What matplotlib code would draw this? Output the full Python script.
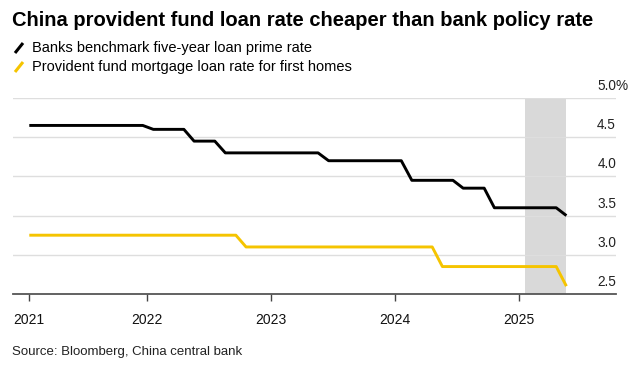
import matplotlib
matplotlib.use("Agg")
import matplotlib.pyplot as plt
import matplotlib.transforms as mtransforms
from matplotlib.lines import Line2D
import pandas as pd

plt.rcParams['font.family'] = ['Liberation Sans', 'DejaVu Sans']

# monthly fixings, 20th of each month
dates = pd.date_range("2021-01-01", "2025-05-01", freq="MS") + pd.Timedelta(days=19)

lpr_5y = [
    4.65, 4.65, 4.65, 4.65, 4.65, 4.65, 4.65, 4.65, 4.65, 4.65, 4.65, 4.65,  # 2021
    4.60, 4.60, 4.60, 4.60, 4.45, 4.45, 4.45, 4.30, 4.30, 4.30, 4.30, 4.30,  # 2022
    4.30, 4.30, 4.30, 4.30, 4.30, 4.20, 4.20, 4.20, 4.20, 4.20, 4.20, 4.20,  # 2023
    4.20, 3.95, 3.95, 3.95, 3.95, 3.95, 3.85, 3.85, 3.85, 3.60, 3.60, 3.60,  # 2024
    3.60, 3.60, 3.60, 3.60, 3.50,                                            # 2025
]
provident = [
    3.25, 3.25, 3.25, 3.25, 3.25, 3.25, 3.25, 3.25, 3.25, 3.25, 3.25, 3.25,  # 2021
    3.25, 3.25, 3.25, 3.25, 3.25, 3.25, 3.25, 3.25, 3.25, 3.10, 3.10, 3.10,  # 2022
    3.10, 3.10, 3.10, 3.10, 3.10, 3.10, 3.10, 3.10, 3.10, 3.10, 3.10, 3.10,  # 2023
    3.10, 3.10, 3.10, 3.10, 2.85, 2.85, 2.85, 2.85, 2.85, 2.85, 2.85, 2.85,  # 2024
    2.85, 2.85, 2.85, 2.85, 2.60,                                            # 2025
]

shade_start = pd.Timestamp("2025-01-18")
shade_end = dates[-1]

year_ticks = [dates[0]] + [pd.Timestamp(f"{y}-01-01") for y in (2022, 2023, 2024, 2025)]
year_labels = ["2021", "2022", "2023", "2024", "2025"]
y_ticks = [2.5, 3.0, 3.5, 4.0, 4.5, 5.0]

BLACK = "#000000"
YELLOW = "#f5c400"

fig = plt.figure(figsize=(6.41, 3.71), dpi=100)
ax = fig.add_axes([13 / 641, 1 - 294 / 371, (616 - 13) / 641, (294 - 98) / 371])

ax.axvspan(shade_start, shade_end, color="#d9d9d9", lw=0, zorder=0)
ax.plot(dates, lpr_5y, color=BLACK, lw=2.1, solid_capstyle="butt", zorder=3)
ax.plot(dates, provident, color=YELLOW, lw=2.1, solid_capstyle="butt", zorder=3)

ax.set_xlim(pd.Timestamp("2020-12-03"), pd.Timestamp("2025-10-13"))
ax.set_ylim(2.5, 5.0)

for v in y_ticks[1:]:
    ax.axhline(v, color="#dedede", lw=1.0, zorder=1)

trans = mtransforms.blended_transform_factory(ax.transAxes, ax.transData)
off = mtransforms.ScaledTranslation(0, 5 / 100, fig.dpi_scale_trans)
for v in y_ticks:
    ax.text(1.0, v, f"{v:.1f}", transform=trans + off, ha="right", va="bottom",
            fontsize=9.8, color="#222222")
ax.text(1.0, y_ticks[-1], "%", transform=trans + off, ha="left", va="bottom",
        fontsize=9.8, color="#222222")

ax.set_yticks([])
ax.set_xticks(year_ticks)
ax.set_xticklabels(year_labels, fontsize=10, color="#111111")
ax.tick_params(axis="x", length=5, width=1, color="#444444", pad=9)
for s in ("top", "right", "left"):
    ax.spines[s].set_visible(False)
ax.spines["bottom"].set_color("#555555")
ax.spines["bottom"].set_linewidth(1.3)

fig.text(12 / 641, 1 - 21 / 371, "China provident fund loan rate cheaper than bank policy rate",
         fontsize=14.5, fontweight="bold", va="center", ha="left")

legend_items = [("Banks benchmark five-year loan prime rate", BLACK, 48),
                ("Provident fund mortgage loan rate for first homes", YELLOW, 67)]
for label, col, ypx in legend_items:
    fig.add_artist(Line2D([15 / 641, 23 / 641], [1 - (ypx + 5) / 371, 1 - (ypx - 5) / 371],
                          color=col, lw=2.2, solid_capstyle="butt"))
    fig.text(32 / 641, 1 - ypx / 371, label, fontsize=10.5, va="center", ha="left")

fig.text(12 / 641, 1 - 352 / 371, "Source: Bloomberg, China central bank",
         fontsize=9.5, va="center", ha="left", color="#222222")

fig.savefig("out.png", dpi=100)
